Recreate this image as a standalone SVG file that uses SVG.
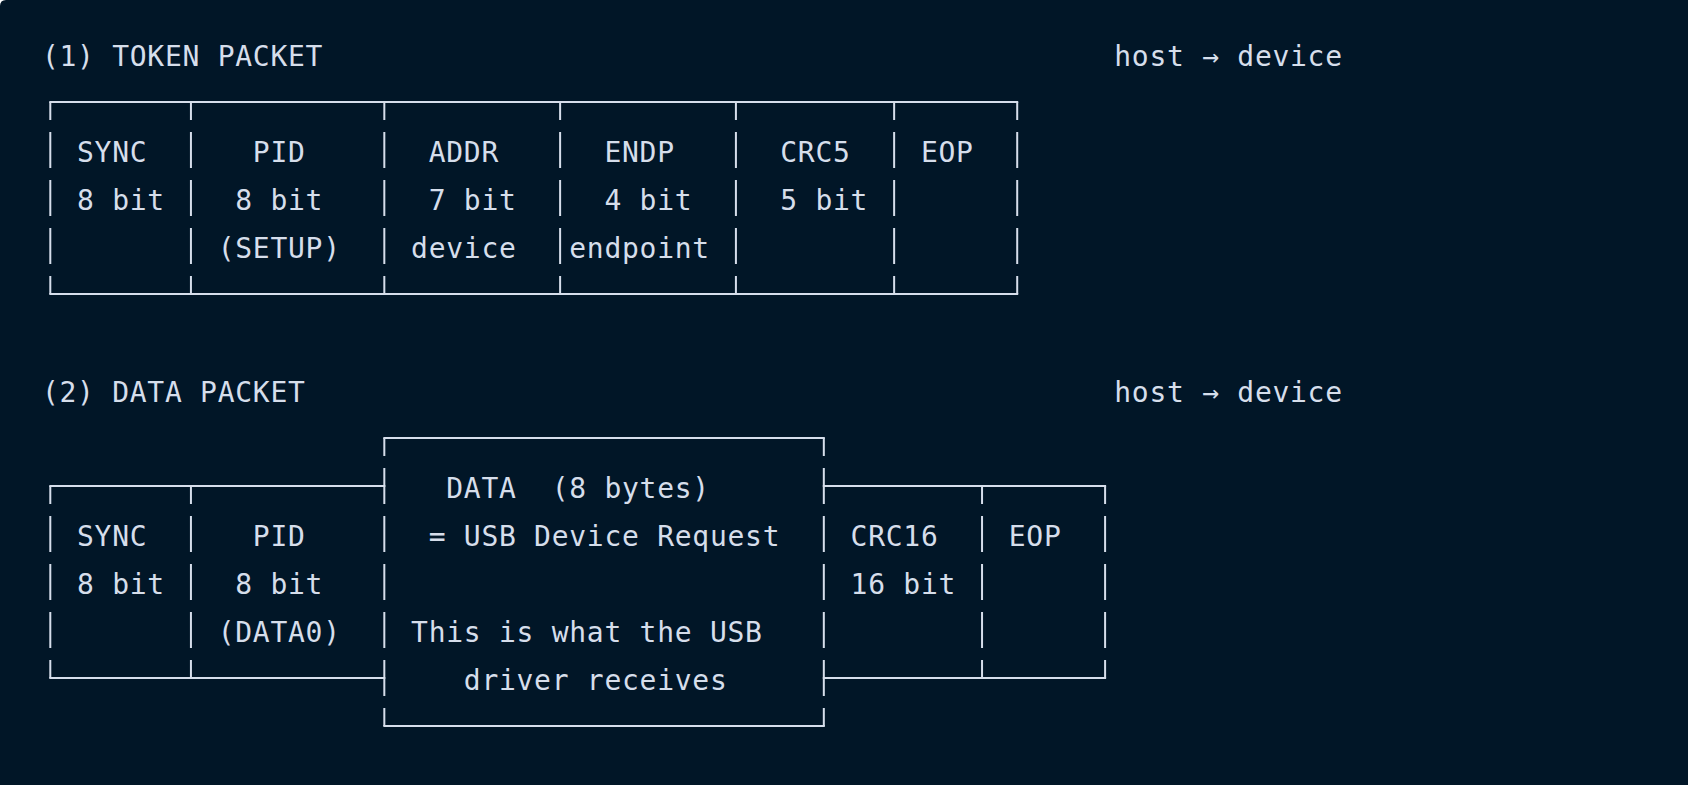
<svg xmlns="http://www.w3.org/2000/svg" width="1688" height="785" viewBox="0 0 1688 785">
<style>
.t{font-family:"DejaVu Sans Mono",monospace;font-size:28px;letter-spacing:0.72px;fill:#d6deeb;white-space:pre}
.h{stroke:#d6deeb;stroke-width:2;stroke-linecap:square;fill:none}
.v{stroke:#d6deeb;stroke-width:2;stroke-linecap:butt;stroke-dasharray:36 12;stroke-dashoffset:18;fill:none}
</style>
<rect x="0" y="0" width="1688" height="785" fill="#ffffff"/>
<path d="M6 0H1688V785H0V6Q0 0 6 0Z" fill="#011627"/>

<g id="token-title"><text class="t" x="41.9" y="65.5">(1) TOKEN PACKET</text></g>
<g id="token-direction"><text class="t" x="1114.28" y="65.5">host → device</text></g>

<g id="token-sync">
<text class="t" x="77.06" y="161.5">SYNC</text>
<text class="t" x="77.06" y="209.5">8 bit</text>
</g>
<g id="token-pid">
<text class="t" x="252.86" y="161.5">PID</text>
<text class="t" x="235.28" y="209.5">8 bit</text>
<text class="t" x="217.7" y="257.5">(SETUP)</text>
</g>
<g id="token-addr">
<text class="t" x="428.66" y="161.5">ADDR</text>
<text class="t" x="428.66" y="209.5">7 bit</text>
<text class="t" x="411.08" y="257.5">device</text>
</g>
<g id="token-endp">
<text class="t" x="604.46" y="161.5">ENDP</text>
<text class="t" x="604.46" y="209.5">4 bit</text>
<text class="t" x="569.3" y="257.5">endpoint</text>
</g>
<g id="token-crc5">
<text class="t" x="780.26" y="161.5">CRC5</text>
<text class="t" x="780.26" y="209.5">5 bit</text>
</g>
<g id="token-eop">
<text class="t" x="920.9" y="161.5">EOP</text>
</g>

<g id="data-title"><text class="t" x="41.9" y="401.5">(2) DATA PACKET</text></g>
<g id="data-direction"><text class="t" x="1114.28" y="401.5">host → device</text></g>

<g id="data-sync">
<text class="t" x="77.06" y="545.5">SYNC</text>
<text class="t" x="77.06" y="593.5">8 bit</text>
</g>
<g id="data-pid">
<text class="t" x="252.86" y="545.5">PID</text>
<text class="t" x="235.28" y="593.5">8 bit</text>
<text class="t" x="217.7" y="641.5">(DATA0)</text>
</g>
<g id="data-payload">
<text class="t" x="446.24" y="497.5" xml:space="preserve">DATA  (8 bytes)</text>
<text class="t" x="428.66" y="545.5">= USB Device Request</text>
<text class="t" x="411.08" y="641.5">This is what the USB</text>
<text class="t" x="463.82" y="689.5">driver receives</text>
</g>
<g id="data-crc16">
<text class="t" x="850.58" y="545.5">CRC16</text>
<text class="t" x="850.58" y="593.5">16 bit</text>
</g>
<g id="data-eop">
<text class="t" x="1008.8" y="545.5">EOP</text>
</g>

<g id="connectors">
<!-- token packet frame -->
<line class="h" x1="50.3" y1="102" x2="1017.2" y2="102"/>
<line class="h" x1="50.3" y1="294" x2="1017.2" y2="294"/>
<line class="v" x1="50.3" y1="102" x2="50.3" y2="294"/>
<line class="v" x1="190.94" y1="102" x2="190.94" y2="294"/>
<line class="v" x1="384.32" y1="102" x2="384.32" y2="294"/>
<line class="v" x1="560.12" y1="102" x2="560.12" y2="294"/>
<line class="v" x1="735.92" y1="102" x2="735.92" y2="294"/>
<line class="v" x1="894.14" y1="102" x2="894.14" y2="294"/>
<line class="v" x1="1017.2" y1="102" x2="1017.2" y2="294"/>
<!-- data packet frame -->
<line class="h" x1="384.32" y1="438" x2="823.82" y2="438"/>
<line class="h" x1="384.32" y1="726" x2="823.82" y2="726"/>
<line class="h" x1="50.3" y1="486" x2="384.32" y2="486"/>
<line class="h" x1="50.3" y1="678" x2="384.32" y2="678"/>
<line class="h" x1="823.82" y1="486" x2="1105.1" y2="486"/>
<line class="h" x1="823.82" y1="678" x2="1105.1" y2="678"/>
<line class="v" x1="50.3" y1="486" x2="50.3" y2="678"/>
<line class="v" x1="190.94" y1="486" x2="190.94" y2="678"/>
<line class="v" x1="384.32" y1="438" x2="384.32" y2="726"/>
<line class="v" x1="823.82" y1="438" x2="823.82" y2="726"/>
<line class="v" x1="982.04" y1="486" x2="982.04" y2="678"/>
<line class="v" x1="1105.1" y1="486" x2="1105.1" y2="678"/>
</g>
</svg>
